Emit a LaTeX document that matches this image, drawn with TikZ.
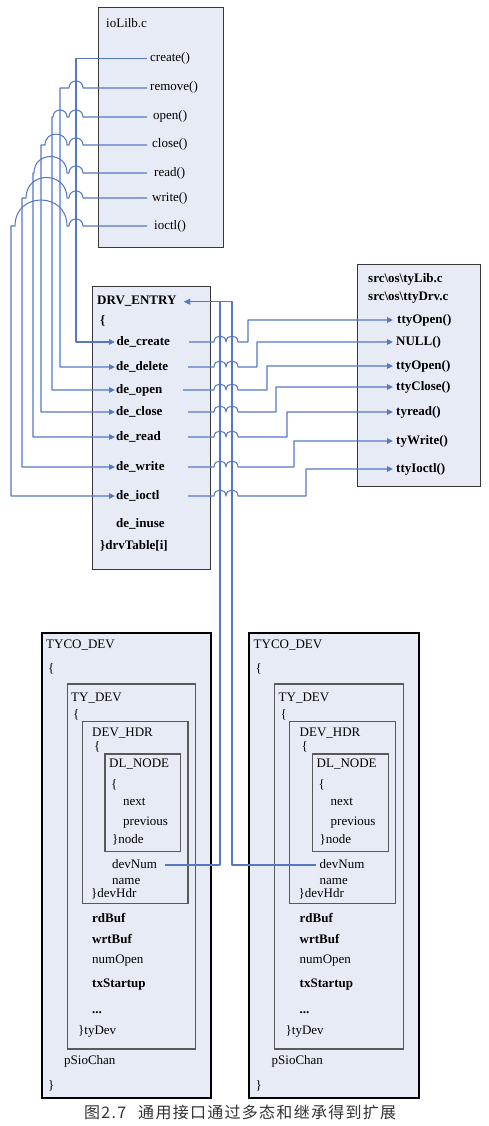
\documentclass[tikz,border=0pt]{standalone}
\usepackage{fontspec}
\setmainfont{Liberation Serif}
\newfontfamily\cjkfont[LetterSpace=8]{Noto Sans CJK SC}
\usetikzlibrary{arrows.meta}
\definecolor{boxfill}{RGB}{231,235,245}
\definecolor{linkblue}{RGB}{86,120,196}
\definecolor{boxedge}{RGB}{55,55,55}
\tikzset{
  lbl/.style={font=\fontsize{13}{15}\selectfont, anchor=west, inner xsep=0pt, inner ysep=0pt, text height=9pt, text depth=3pt},
  blbl/.style={lbl, font=\fontsize{13}{15}\selectfont\bfseries},
  srcbox/.style={draw=boxedge, line width=1.4pt, fill=boxfill, anchor=north west, inner sep=0pt},
  outerbox/.style={draw=black, line width=2pt, fill=boxfill, anchor=north west, inner sep=0pt},
  innerbox/.style={draw=black!65, line width=1.2pt, fill=boxfill, anchor=north west, inner sep=0pt},
  link/.style={draw=linkblue, line width=1.05pt, line join=round},
  linkarrow/.style={link, -{Triangle[length=6pt,width=5.5pt]}},
}
% line jump: from x=#1 to x=#2 along y=#3
\newcommand{\hop}[3]{-- (#1,#3) .. controls (#1,{#3-0.6667*abs(#2-#1)}) and (#2,{#3-0.6667*abs(#2-#1)}) .. (#2,#3)}
\newcommand{\tycobox}[2]{%
 \begin{scope}[xshift=#2pt]
  \node[outerbox, minimum width=169.3pt, minimum height=464.4pt] (#1tyco) at (40.7,632.3) {};
  \node[innerbox, minimum width=128.3pt, minimum height=365pt] (#1tydev) at (66.7,683.3) {};
  \node[innerbox, minimum width=105.6pt, minimum height=181.7pt] (#1devhdr) at (81.7,721) {};
  \node[innerbox, minimum width=75.7pt, minimum height=97.7pt] (#1dlnode) at (104.3,753.3) {};
  \node[lbl] (#1tycot) at (46,645) {TYCO\_DEV};
  \node[lbl] (#1bA) at (48,669) {\{};
  \node[lbl] (#1tydevt) at (71,698) {TY\_DEV};
  \node[lbl] (#1bB) at (73,715) {\{};
  \node[lbl] (#1devhdrt) at (92,733) {DEV\_HDR};
  \node[lbl] (#1bC) at (94,747) {\{};
  \node[lbl] (#1dlnodet) at (109,764) {DL\_NODE};
  \node[lbl] (#1bD) at (111,785) {\{};
  \node[lbl] (#1next) at (123,802.7) {next};
  \node[lbl] (#1prev) at (123,822) {previous};
  \node[lbl] (#1nodee) at (112,840.7) {\}node};
  \node[lbl] (#1devnum) at (112,865) {devNum};
  \node[lbl] (#1name) at (112,881.7) {name};
  \node[lbl] (#1devhdre) at (91,894.3) {\}devHdr};
  \node[blbl] (#1rdbuf) at (92,919.3) {rdBuf};
  \node[blbl] (#1wrtbuf) at (92,940) {wrtBuf};
  \node[lbl] (#1numopen) at (92,960) {numOpen};
  \node[blbl] (#1txst) at (92,984) {txStartup};
  \node[blbl] (#1dots) at (92,1010) {...};
  \node[lbl] (#1tydeve) at (78,1031.7) {\}tyDev};
  \node[lbl] (#1psio) at (64,1061.7) {pSioChan};
  \node[lbl] (#1bE) at (48,1086.7) {\}};
 \end{scope}}
\begin{document}
\begin{tikzpicture}[x=1pt,y=-1pt]
\useasboundingbox (0,0) rectangle (489,1126);
\fill[white] (0,0) rectangle (489,1126);
% ---------- ioLib box ----------
\node[srcbox, minimum width=125pt, minimum height=240pt] (iolib) at (98,7) {};
\node[lbl] (iolibt) at (106,25) {ioLilb.c};
\node[lbl] (fcreate) at (150,58.7) {create()};
\node[lbl] (fremove) at (150,88) {remove()};
\node[lbl] (fopen) at (153,117) {open()};
\node[lbl] (fclose) at (152,145) {close()};
\node[lbl] (fread) at (154,173) {read()};
\node[lbl] (fwrite) at (152,198) {write()};
\node[lbl] (fioctl) at (154,226) {ioctl()};
% ---------- DRV_ENTRY box ----------
\node[srcbox, minimum width=118pt, minimum height=283pt] (drvbox) at (92,286) {};
\node[blbl] (drv) at (97,301.7) {DRV\_ENTRY};
\node[blbl] (mbrace) at (100,321.7) {\{};
\node[blbl, inner xsep=1.5pt] (decreate) at (115,342) {de\_create};
\node[blbl, inner xsep=1pt] (dedelete) at (115,367) {de\_delete};
\node[blbl, inner xsep=1pt] (deopen) at (115,390) {de\_open};
\node[blbl, inner xsep=1pt] (declose) at (115,412) {de\_close};
\node[blbl, inner xsep=1pt] (deread) at (115,437) {de\_read};
\node[blbl, inner xsep=1pt] (dewrite) at (115,467) {de\_write};
\node[blbl, inner xsep=1pt] (deioctl) at (115,496) {de\_ioctl};
\node[blbl] (deinuse) at (116,524.3) {de\_inuse};
\node[blbl] (drvtable) at (100,546.7) {\}drvTable[i]};
% ---------- tty box ----------
\node[srcbox, minimum width=123pt, minimum height=222pt] (ttybox) at (357,264) {};
\node[blbl] (srclib) at (368,279) {src\textbackslash os\textbackslash tyLib.c};
\node[blbl] (srcdrv) at (368,297) {src\textbackslash os\textbackslash ttyDrv.c};
\node[blbl, inner xsep=4pt] (ttoA) at (393,320) {ttyOpen()};
\node[blbl, inner xsep=3pt] (tnull) at (393,342) {NULL()};
\node[blbl, inner xsep=3pt] (ttoB) at (393,366) {ttyOpen()};
\node[blbl, inner xsep=3pt] (tclose) at (393,387) {ttyClose()};
\node[blbl, inner xsep=3pt] (tread) at (393,412) {tyread()};
\node[blbl, inner xsep=3pt] (twrite) at (393,441) {tyWrite()};
\node[blbl, inner xsep=3pt] (tioctl) at (393,469) {ttyIoctl()};
% ---------- TYCO_DEV boxes ----------
\tycobox{L}{0}
\tycobox{R}{207.5}
% ---------- caption ----------
\node[anchor=west, inner sep=0pt, font=\cjkfont\fontsize{16}{18}\selectfont, text=black!80] (caption) at (84,1112.5) {图2.7\hspace{12pt}通用接口通过多态和继承得到扩展};
% ---------- connectors: ioLib -> DRV_ENTRY ----------
\draw[linkarrow] (fcreate.west -| 147,0) -- (76,58.7) |- (decreate.west);
\draw[linkarrow] (fremove.west -| 147,0) \hop{83}{69}{88} -- (60,88) |- (dedelete.west);
\draw[linkarrow] (fopen.west -| 147,0) \hop{83}{69}{117} \hop{67}{53}{117} -- (52,117) |- (deopen.west);
\draw[linkarrow] (fclose.west -| 147,0) \hop{83}{69}{145} \hop{67}{45}{145} -- (41,145) |- (declose.west);
\draw[linkarrow] (fread.west -| 147,0) \hop{83}{69}{173} \hop{67}{34}{173} -- (33,173) |- (deread.west);
\draw[linkarrow] (fwrite.west -| 147,0) \hop{83}{69}{198} \hop{67}{26}{198} -- (22,198) |- (dewrite.west);
\draw[linkarrow] (fioctl.west -| 147,0) \hop{83}{69}{226} \hop{67}{15}{226} -- (11,226) |- (deioctl.west);
% ---------- connectors: DRV_ENTRY -> tty ----------
\draw[linkarrow] (decreate.east -| 189,0) \hop{214}{226}{342} \hop{226}{238}{342} -- (248,342) |- (ttoA.west);
\draw[linkarrow] (dedelete.east -| 188,0) \hop{214}{226}{367} \hop{226}{238}{367} -- (257,367) |- (tnull.west);
\draw[linkarrow] (deopen.east -| 183,0) \hop{214}{226}{390} \hop{226}{238}{390} -- (267,390) |- (ttoB.west);
\draw[linkarrow] (declose.east -| 188,0) \hop{214}{226}{412} \hop{226}{238}{412} -- (276,412) |- (tclose.west);
\draw[linkarrow] (deread.east -| 188,0) \hop{214}{226}{437} \hop{226}{238}{437} -- (287,437) |- (tread.west);
\draw[linkarrow] (dewrite.east -| 188,0) \hop{214}{226}{467} \hop{226}{238}{467} -- (294,467) |- (twrite.west);
\draw[linkarrow] (deioctl.east -| 188,0) \hop{214}{226}{496} \hop{226}{238}{496} -- (306,496) |- (tioctl.west);
% ---------- connectors: devNum -> DRV_ENTRY ----------
\draw[linkarrow] (Ldevnum.east -| 165,0) -- (220,865) |- (drv.east -| 184,0);
\draw[linkarrow] (Rdevnum.west -| 316,0) -- (232,865) |- (drv.east -| 184,0);
\end{tikzpicture}
\end{document}
